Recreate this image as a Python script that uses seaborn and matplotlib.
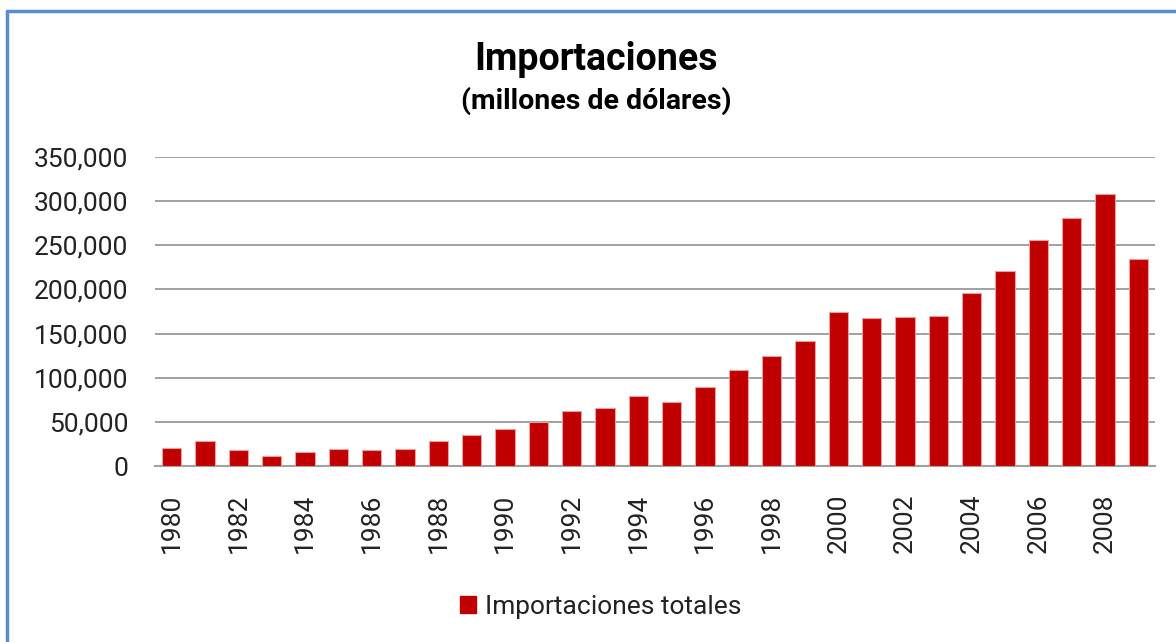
import matplotlib
matplotlib.use("Agg")
import matplotlib.pyplot as plt
import seaborn as sns
import pandas as pd
from matplotlib.patches import Patch
from matplotlib.lines import Line2D
from matplotlib.ticker import FuncFormatter

# Data (millones de dólares)
years = list(range(1980, 2010))
imports = [20800, 27900, 17700, 11800, 16300, 19200, 17700, 19200, 27900, 35500,
           42300, 49700, 62600, 65600, 78800, 72800, 89000, 109000, 124800, 141300,
           174100, 167300, 168400, 170000, 196000, 220900, 255500, 280400, 307900, 234000]
series_name = "Importaciones totales"
title = "Importaciones"
subtitle = "(millones de dólares)"

df = pd.DataFrame({"year": [str(y) for y in years], "value": imports})

sns.set_theme(style="white")
plt.rcParams['font.family'] = ['Roboto', 'DejaVu Sans']

W, H = 1176, 642
fig = plt.figure(figsize=(W / 100, H / 100), dpi=100)
fig.patch.set_facecolor("white")
ax = fig.add_axes([155 / W, 1 - 466 / H, 1000 / W, (466 - 157) / H])

bar_color = "#C00000"
sns.barplot(data=df, x="year", y="value", color=bar_color, width=0.58,
            edgecolor="#E8A0A0", linewidth=0.8, saturation=1, ax=ax, zorder=3)

ax.set_ylim(0, 350000)
ax.set_xlim(-0.5, len(years) - 0.5)
ax.set_yticks(range(0, 350001, 50000))
ax.yaxis.set_major_formatter(FuncFormatter(lambda v, p: f"{v:,.0f}"))
ax.grid(axis="y", color="#888888", linewidth=1.1, zorder=0)
ax.grid(axis="x", visible=False)
for s in ["left", "right", "top"]:
    ax.spines[s].set_visible(False)
ax.spines["bottom"].set_color("#A0A0A0")
ax.spines["bottom"].set_linewidth(1.5)

even_idx = [i for i, y in enumerate(years) if y % 2 == 0]
ax.set_xticks(even_idx)
ax.set_xticklabels([str(years[i]) for i in even_idx], rotation=90, ha="center", va="top")
ax.tick_params(axis="x", length=0, pad=20, labelsize=19, colors="#222222")
ax.tick_params(axis="y", length=0, pad=19, labelsize=19, colors="#222222")
ax.set_xlabel("")
ax.set_ylabel("")

fig.text(596 / W, 1 - 70 / H, title, ha="center", va="baseline",
         fontsize=27, fontweight="bold", color="black")
fig.text(596 / W, 1 - 109 / H, subtitle, ha="center", va="baseline",
         fontsize=20.5, fontweight="bold", color="black")

handle = Patch(facecolor=bar_color, edgecolor=bar_color)
fig.legend([handle], [series_name], loc="center", bbox_to_anchor=(601 / W, 1 - 607 / H),
           frameon=False, fontsize=19, handlelength=0.6, handleheight=0.6,
           handletextpad=0.35, labelcolor="#222222")

# chart frame (blue border)
border = "#5B8BD0"
fig.add_artist(Line2D([7 / W, 7 / W], [0, 1 - 11 / H], color=border, linewidth=2.5,
                      transform=fig.transFigure))
fig.add_artist(Line2D([7 / W, 1], [1 - 11 / H, 1 - 11 / H], color=border, linewidth=2.5,
                      transform=fig.transFigure))

fig.savefig("out.png", dpi=100, facecolor="white")
